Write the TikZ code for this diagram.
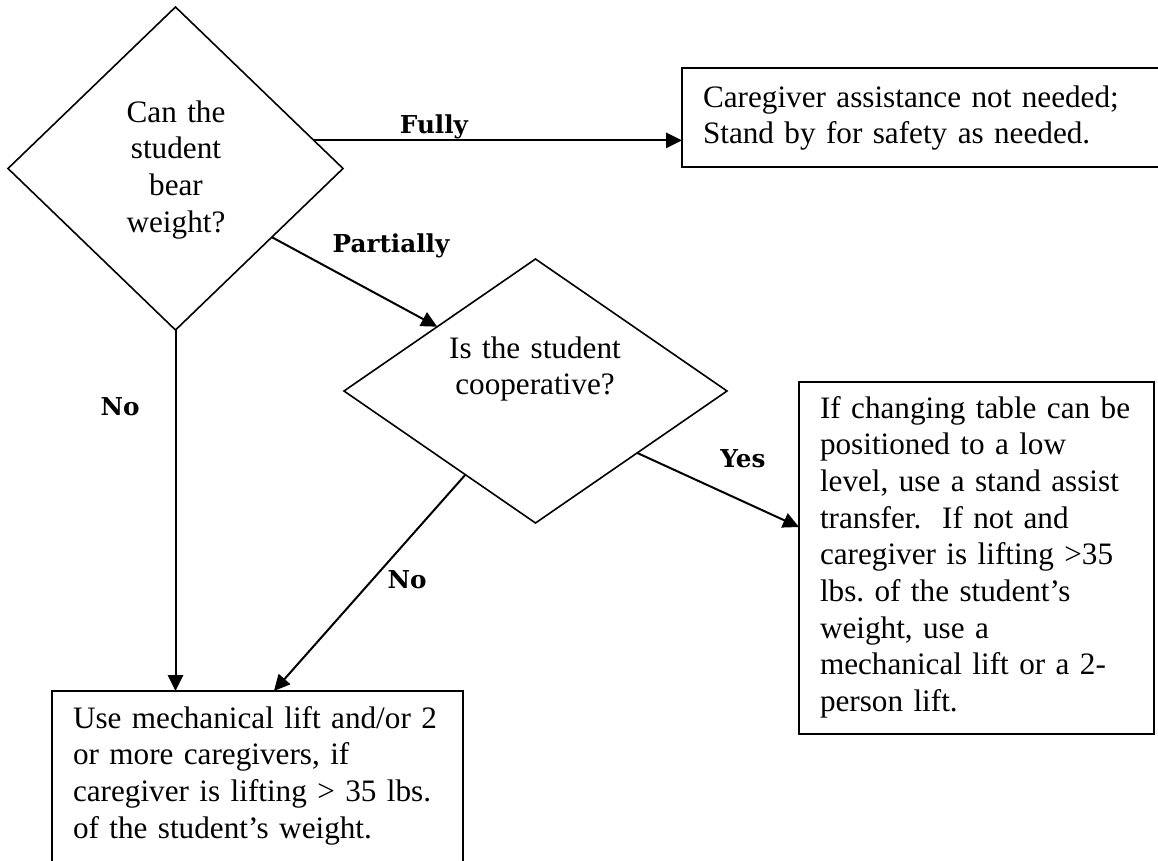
\documentclass[tikz,border=0pt]{standalone}
\usepackage{fontspec}
\setmainfont{Liberation Serif}
\newfontfamily\labfont{DejaVu Serif}
\usetikzlibrary{shapes.geometric,arrows.meta,calc}
\frenchspacing

\begin{document}
\begin{tikzpicture}[x=0.75pt,y=-0.75pt,
  decision/.style={draw,diamond,line width=1.2pt,inner sep=0pt,outer sep=0pt},
  resultbox/.style={draw,rectangle,line width=1.4pt,inner sep=0pt,outer sep=0pt,anchor=north west},
  bodytext/.style={inner sep=0pt,outer sep=0pt,font=\fontsize{23.4}{27.5}\selectfont},
  lefttext/.style={bodytext,anchor=base west,text width=420pt,align=left},
  centertext/.style={bodytext,anchor=base,text width=200pt,align=center},
  flowarrow/.style={line width=1.5pt,-{Triangle[length=12pt,width=11.5pt]}},
  branchlabel/.style={inner sep=0pt,anchor=base,font=\labfont\bfseries\fontsize{18.5}{20}\selectfont}]
\clip (0,0) rectangle (1158,861);

% decisions
\node[decision,minimum width=251.25pt,minimum height=242.25pt] (d1) at (175.5,168.5) {};
\node[centertext] (d1t) at (176,122) {Can the\\student\\bear\\weight?};
\node[decision,minimum width=287.25pt,minimum height=198pt] (d2) at (535.5,391) {};
\node[centertext] (d2t) at (535,358) {Is the student\\cooperative?};

% result boxes
\node[resultbox,minimum width=369.75pt,minimum height=74.25pt] (b1) at (682,68) {};
\node[lefttext] (b1t) at (703,107) {Caregiver assistance not needed;\\Stand by for safety as needed.};
\node[resultbox,minimum width=266.25pt,minimum height=264pt] (b2) at (799,382) {};
\node[lefttext] (b2t) at (820,418) {If changing table can be\\positioned to a low\\level, use a stand assist\\transfer.\ \ If not and\\caregiver is lifting >35\\lbs. of the student’s\\weight, use a\\mechanical lift or a 2-\\person lift.};
\node[resultbox,minimum width=308.25pt,minimum height=156.75pt] (b3) at (52,691) {};
\node[lefttext] (b3t) at (73,728) {Use mechanical lift and/or 2\\or more caregivers, if\\caregiver is lifting > 35 lbs.\\of the student’s weight.};

% connectors
\coordinate (fa) at ($(d1.north)!0.826!(d1.east)$);
\draw[flowarrow] (fa) -- (fa -| b1.west);
\draw[flowarrow] ($(d1.east)!0.425!(d1.south)$) -- ($(d2.west)!0.487!(d2.north)$);
\draw[flowarrow] (d1.south) -- (d1.south |- b3.north);
\draw[flowarrow] ($(d2.east)!0.469!(d2.south)$) -- ($(b2.north west)!0.412!(b2.south west)$);
\draw[flowarrow] ($(d2.west)!0.634!(d2.south)$) -- ($(b3.north west)!0.54!(b3.north east)$);

% branch labels
\node[branchlabel] (lfully) at (434,133) {Fully};
\node[branchlabel] (lpart) at (391,252) {Partially};
\node[branchlabel] (lno1) at (120,415) {No};
\node[branchlabel] (lyes) at (743,467) {Yes};
\node[branchlabel] (lno2) at (407,588) {No};
\end{tikzpicture}
\end{document}
